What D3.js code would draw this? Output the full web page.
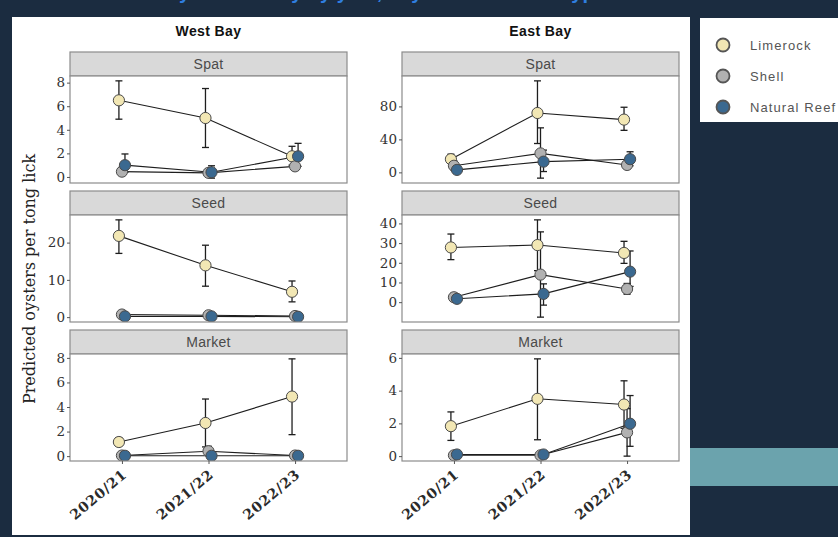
<!DOCTYPE html>
<html>
<head>
<meta charset="utf-8">
<script src="https://cdn.jsdelivr.net/npm/d3@7"></script>
<style>
  body { margin: 0; background: #1b2c40; }
  svg { display: block; }
</style>
</head>
<body>
<svg id="chart" width="838" height="537"></svg>
<script>
// ---- categories ----
const years = ["2020/21", "2021/22", "2022/23"];
const substrates = ["Limerock", "Shell", "Natural Reef"];
const bays = ["West Bay", "East Bay"];
const stages = ["Spat", "Seed", "Market"];
const substrateColors = ["#f2e7b4", "#b1b1b1", "#3b6990"];

// ---- predicted means and 95% intervals (rows: Limerock, Shell, Natural Reef; columns: years) ----
const westSpatMean = [[6.5, 5.0, 1.75], [0.45, 0.35, 0.9], [1.0, 0.4, 1.75]];
const westSpatLow  = [[4.9, 2.5, 1.0], [0.2, 0.1, 0.6], [0.4, -0.1, 0.9]];
const westSpatHigh = [[8.15, 7.5, 2.6], [0.8, 0.7, 1.3], [1.95, 0.95, 2.85]];

const eastSpatMean = [[16, 72, 64], [8, 23, 9], [3, 13, 16]];
const eastSpatLow  = [[11, 35, 51], [3, -7, 5], [0, 1, 8]];
const eastSpatHigh = [[22, 111, 79], [14, 54, 13], [6, 27, 25]];

const westSeedMean = [[21.8, 13.9, 6.8], [0.7, 0.5, 0.3], [0.2, 0.2, 0.1]];
const westSeedLow  = [[17.1, 8.3, 4.1], [0.2, 0.1, 0.0], [0.0, 0.0, 0.0]];
const westSeedHigh = [[26.1, 19.3, 9.7], [1.2, 1.0, 0.7], [0.5, 0.5, 0.4]];

const eastSeedMean = [[27.8, 29, 25], [2.5, 14, 6.7], [1.7, 4.2, 15.5]];
const eastSeedLow  = [[21.6, 16, 19.7], [0.5, -7.6, 4], [0.3, -1.5, 8]];
const eastSeedHigh = [[34.6, 41.8, 30.9], [4.5, 35.7, 9.5], [3.2, 9.3, 26]];

const westMarketMean = [[1.15, 2.7, 4.85], [0.05, 0.4, 0.05], [0.03, 0.03, 0.03]];
const westMarketLow  = [[0.85, 0.75, 1.75], [0.0, 0.05, 0.0], [0.0, 0.0, 0.0]];
const westMarketHigh = [[1.5, 4.65, 7.92], [0.15, 0.8, 0.15], [0.1, 0.1, 0.1]];

const eastMarketMean = [[1.83, 3.5, 3.15], [0.05, 0.05, 1.45], [0.1, 0.1, 1.98]];
const eastMarketLow  = [[0.96, 1.0, 1.7], [0.0, 0.0, 0.0], [0.0, 0.0, 0.6]];
const eastMarketHigh = [[2.7, 5.94, 4.6], [0.15, 0.15, 2.9], [0.3, 0.3, 3.7]];

// ---- tick labels ----
const westSpatTicks = [0, 2, 4, 6, 8];
const eastSpatTicks = [0, 40, 80];
const westSeedTicks = [0, 10, 20];
const eastSeedTicks = [0, 10, 20, 30, 40];
const westMarketTicks = [0, 2, 4, 6, 8];
const eastMarketTicks = [0, 2, 4, 6];

const panels = [
  { bay: 0, stage: 0, mean: westSpatMean, low: westSpatLow, high: westSpatHigh, ticks: westSpatTicks },
  { bay: 1, stage: 0, mean: eastSpatMean, low: eastSpatLow, high: eastSpatHigh, ticks: eastSpatTicks },
  { bay: 0, stage: 1, mean: westSeedMean, low: westSeedLow, high: westSeedHigh, ticks: westSeedTicks },
  { bay: 1, stage: 1, mean: eastSeedMean, low: eastSeedLow, high: eastSeedHigh, ticks: eastSeedTicks },
  { bay: 0, stage: 2, mean: westMarketMean, low: westMarketLow, high: westMarketHigh, ticks: westMarketTicks },
  { bay: 1, stage: 2, mean: eastMarketMean, low: eastMarketLow, high: eastMarketHigh, ticks: eastMarketTicks }
];

// ---- layout ----
const svg = d3.select("#chart");
const colLeft = [70, 402];
const colWidth = 277;
const stripTop0 = 52, rowStep = 139, stripH = 24, plotH = 107;
const serif = "'DejaVu Serif', 'Liberation Serif', serif";
const sans = "'Liberation Sans', Arial, sans-serif";

// page background pieces
svg.append("rect").attr("width", 838).attr("height", 537).attr("fill", "#1b2c40");
svg.append("text")
  .attr("x", 70).attr("y", -1)
  .attr("font-family", sans).attr("font-size", 20).attr("font-weight", "bold")
  .attr("fill", "#2f7fe0")
  .text("Predicted oyster density by year, bay and substrate type");
svg.append("rect").attr("x", 12).attr("y", 17).attr("width", 678).attr("height", 518).attr("fill", "#ffffff");
svg.append("rect").attr("x", 690).attr("y", 448).attr("width", 148).attr("height", 38).attr("fill", "#6ba3ad");

// column titles
bays.forEach((b, i) => {
  svg.append("text")
    .attr("x", colLeft[i] + colWidth / 2).attr("y", 36)
    .attr("text-anchor", "middle")
    .attr("font-family", sans).attr("font-size", 14).attr("font-weight", "bold")
    .attr("letter-spacing", 0.4)
    .attr("fill", "#111")
    .text(b);
});

// shared y title
svg.append("text")
  .attr("transform", "translate(35,279) rotate(-90)")
  .attr("text-anchor", "middle")
  .attr("font-family", serif).attr("font-size", 16)
  .attr("fill", "#222")
  .text("Predicted oysters per tong lick");

const dodge = [-1, 0, 1];

panels.forEach((p, pi) => {
  const x0 = colLeft[p.bay], x1 = x0 + colWidth;
  const sTop = stripTop0 + p.stage * rowStep;
  const pTop = sTop + stripH, pBot = pTop + plotH;

  const x = d3.scalePoint().domain(years).range([x0, x1]).padding(0.6);
  const allLow = d3.min(p.low.flat()), allHigh = d3.max(p.high.flat());
  const span = allHigh - allLow;
  const y = d3.scaleLinear().domain([allLow - 0.05 * span, allHigh + 0.05 * span]).range([pBot, pTop]);
  const dx = x.step() * 0.035;

  const g = svg.append("g");

  // strip
  g.append("rect")
    .attr("x", x0).attr("y", sTop).attr("width", colWidth).attr("height", stripH)
    .attr("fill", "#d9d9d9").attr("stroke", "#8c8c8c").attr("stroke-width", 1.2);
  g.append("text")
    .attr("x", x0 + colWidth / 2).attr("y", sTop + stripH / 2 + 5)
    .attr("text-anchor", "middle")
    .attr("font-family", sans).attr("font-size", 14).attr("letter-spacing", 0.3)
    .attr("fill", "#4a4a4a")
    .text(stages[p.stage]);

  // panel
  g.append("rect")
    .attr("x", x0).attr("y", pTop).attr("width", colWidth).attr("height", plotH)
    .attr("fill", "#ffffff");

  const clipId = "clip" + pi;
  g.append("clipPath").attr("id", clipId)
    .append("rect").attr("x", x0).attr("y", pTop).attr("width", colWidth).attr("height", plotH);

  const marks = g.append("g").attr("clip-path", `url(#${clipId})`);

  const series = substrates.map((s, si) => ({
    si,
    pts: years.map((yr, yi) => ({
      cx: x(yr) + dodge[si] * dx,
      m: p.mean[si][yi], lo: p.low[si][yi], hi: p.high[si][yi]
    }))
  }));

  // error bars
  series.forEach(s => {
    s.pts.forEach(d => {
      const eb = marks.append("g").attr("stroke", "#1e1e1e").attr("stroke-width", 1.3);
      eb.append("line").attr("x1", d.cx).attr("x2", d.cx).attr("y1", y(d.lo)).attr("y2", y(d.hi));
      eb.append("line").attr("x1", d.cx - 3.5).attr("x2", d.cx + 3.5).attr("y1", y(d.lo)).attr("y2", y(d.lo));
      eb.append("line").attr("x1", d.cx - 3.5).attr("x2", d.cx + 3.5).attr("y1", y(d.hi)).attr("y2", y(d.hi));
    });
  });

  // connecting lines
  const line = d3.line().x(d => d.cx).y(d => y(d.m));
  series.forEach(s => {
    marks.append("path").attr("d", line(s.pts))
      .attr("fill", "none").attr("stroke", "#1e1e1e").attr("stroke-width", 1.1);
  });

  // points
  series.forEach(s => {
    marks.selectAll(null).data(s.pts).enter().append("circle")
      .attr("cx", d => d.cx).attr("cy", d => y(d.m)).attr("r", 5.6)
      .attr("fill", substrateColors[s.si]).attr("stroke", "#4a4a4a").attr("stroke-width", 1);
  });

  // panel border
  g.append("rect")
    .attr("x", x0).attr("y", pTop).attr("width", colWidth).attr("height", plotH)
    .attr("fill", "none").attr("stroke", "#8c8c8c").attr("stroke-width", 1.2);

  // y axis
  const ya = g.append("g").attr("transform", `translate(${x0},0)`)
    .call(d3.axisLeft(y).tickValues(p.ticks).tickSize(3).tickPadding(2).tickFormat(d3.format("d")));
  ya.select(".domain").remove();
  ya.selectAll(".tick line").attr("stroke", "#555");
  ya.selectAll(".tick text")
    .attr("font-family", serif).attr("font-size", 13.5).attr("fill", "#333");

  // x axis on the bottom row
  if (p.stage === stages.length - 1) {
    const xa = g.append("g").attr("transform", `translate(0,${pBot})`)
      .call(d3.axisBottom(x).tickSize(3).tickFormat(""));
    xa.select(".domain").remove();
    xa.selectAll(".tick line").attr("stroke", "#555");
    years.forEach(yr => {
      g.append("text")
        .attr("transform", `translate(${x(yr) + 6},${pBot + 15}) rotate(-40)`)
        .attr("text-anchor", "end")
        .attr("font-family", serif).attr("font-size", 14).attr("font-weight", "bold")
        .attr("letter-spacing", 0.8)
        .attr("fill", "#2a2a2a")
        .text(yr);
    });
  }
});

// legend
const legend = svg.append("g");
legend.append("rect").attr("x", 700).attr("y", 18).attr("width", 140).attr("height", 104).attr("fill", "#ffffff");
const legendY = d3.scalePoint().domain(substrates).range([45, 107]);
substrates.forEach((s, i) => {
  legend.append("circle")
    .attr("cx", 723).attr("cy", legendY(s)).attr("r", 6.5)
    .attr("fill", substrateColors[i]).attr("stroke", "#555").attr("stroke-width", 1.8);
  legend.append("text")
    .attr("x", 750).attr("y", legendY(s) + 5)
    .attr("font-family", sans).attr("font-size", 13).attr("letter-spacing", 1.1)
    .attr("fill", "#555")
    .text(s);
});
</script>
</body>
</html>
